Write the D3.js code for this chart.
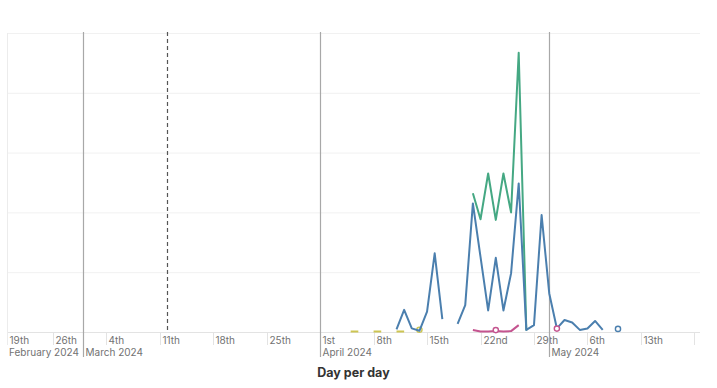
<!DOCTYPE html>
<html>
<head>
<meta charset="utf-8">
<script src="https://cdn.jsdelivr.net/npm/d3@7"></script>
<style>
  body { margin: 0; background: #fff; }
  svg { display: block; font-family: Inter, "Open Sans", sans-serif; }
</style>
</head>
<body>
<svg id="chart" width="717" height="388"></svg>
<script>
// Data
const xStart = "2024-02-20";
const xEnd = "2024-05-21";
const yTicks = [0, 20, 40, 60, 80, 100];
const weekTicks = ["2024-02-19", "2024-02-26", "2024-03-04", "2024-03-11", "2024-03-18", "2024-03-25",
  "2024-04-01", "2024-04-08", "2024-04-15", "2024-04-22", "2024-04-29", "2024-05-06", "2024-05-13", "2024-05-20"];
const weekLabels = ["19th", "26th", "4th", "11th", "18th", "25th", "1st", "8th", "15th", "22nd", "29th", "6th", "13th", ""];
const monthTicks = ["2024-02-20", "2024-03-01", "2024-04-01", "2024-05-01"];
const monthLabels = ["February 2024", "March 2024", "April 2024", "May 2024"];
const markerDate = "2024-03-12";

const greenDates = ["2024-04-21", "2024-04-22", "2024-04-23", "2024-04-24", "2024-04-25", "2024-04-26", "2024-04-27", "2024-04-28"];
const greenValues = [46.4, 37.7, 53, 37.5, 53, 40, 93.4, 0.5];

const blueDates = ["2024-04-11", "2024-04-12", "2024-04-13", "2024-04-14", "2024-04-15", "2024-04-16", "2024-04-17", "2024-04-18",
  "2024-04-19", "2024-04-20", "2024-04-21", "2024-04-22", "2024-04-23", "2024-04-24", "2024-04-25", "2024-04-26",
  "2024-04-27", "2024-04-28", "2024-04-29", "2024-04-30", "2024-05-01", "2024-05-02", "2024-05-03", "2024-05-04",
  "2024-05-05", "2024-05-06", "2024-05-07", "2024-05-08", "2024-05-09", "2024-05-10"];
const blueValues = [0.9, 7.4, 1.2, 0.4, 6.8, 26.3, 4.3, null,
  2.7, 9, 43, 25.1, 7.2, 24.8, 7.2, 19.6,
  49.7, 0.7, 2.3, 39.1, 12.9, 1.2, 4, 3.2,
  0.7, 1.2, 3.7, 0.7, null, 0.7];

const pinkDates = ["2024-04-21", "2024-04-22", "2024-04-23", "2024-04-24", "2024-04-25", "2024-04-26", "2024-04-27", "2024-04-28",
  "2024-04-29", "2024-04-30", "2024-05-01", "2024-05-02"];
const pinkValues = [0.7, 0.2, 0.2, 0.3, 0.2, 0.3, 2.3, null, null, null, null, 0.8];
const pinkDotDates = ["2024-04-24"];
const pinkDotValues = [0.3];

const yellowDates = ["2024-04-05", "2024-04-06", "2024-04-07", "2024-04-08", "2024-04-09", "2024-04-10",
  "2024-04-11", "2024-04-12", "2024-04-13", "2024-04-14"];
const yellowValues = [0.2, 0.2, null, 0.2, 0.2, null, 0.2, 0.2, null, 0.4];

const parse = d3.timeParse("%Y-%m-%d");

const svg = d3.select("#chart");
const plotLeft = 7, plotRight = 702, plotTop = 33, plotBottom = 332;

const x = d3.scaleTime()
  .domain([parse(xStart), parse(xEnd)])
  .range([plotLeft, plotRight]);
const y = d3.scaleLinear()
  .domain([0, 100])
  .range([plotBottom, plotTop]);

// horizontal grid
svg.append("g")
  .selectAll("line")
  .data(yTicks)
  .join("line")
  .attr("x1", plotLeft).attr("x2", 700)
  .attr("y1", d => y(d) + 0.5).attr("y2", d => y(d) + 0.5)
  .attr("stroke", d => d === 0 ? "#e3e3e3" : "#f1f1f1");

// week ticks and labels
const weekG = svg.append("g");
weekTicks.forEach((t, i) => {
  const px = Math.max(plotLeft, Math.round(x(parse(t)))) + 0.5;
  weekG.append("line")
    .attr("x1", px).attr("x2", px)
    .attr("y1", i === 0 ? plotTop : plotBottom).attr("y2", 345)
    .attr("stroke", i === 0 ? "#ececec" : "#e3e3e3");
  weekG.append("text")
    .attr("x", px + 2).attr("y", 344)
    .attr("font-size", 10).attr("fill", "#727272")
    .text(weekLabels[i]);
});

// month lines and labels
const monthG = svg.append("g");
monthTicks.forEach((t, i) => {
  const px = Math.round(x(parse(t))) + 0.5;
  if (i > 0) {
    monthG.append("line")
      .attr("x1", px).attr("x2", px)
      .attr("y1", plotTop - 1).attr("y2", 357)
      .attr("stroke", "#a8a8a8").attr("stroke-width", 1.2);
  }
  monthG.append("text")
    .attr("x", (i === 0 ? plotLeft : px) + 2).attr("y", 356.3)
    .attr("font-size", 10).attr("fill", "#727272")
    .text(monthLabels[i]);
});

// dashed marker line
const mx = Math.round(x(parse(markerDate))) + 0.5;
svg.append("line")
  .attr("x1", mx).attr("x2", mx)
  .attr("y1", plotTop - 1).attr("y2", plotBottom)
  .attr("stroke", "#555").attr("stroke-width", 1.2)
  .attr("stroke-dasharray", "4,3");

// axis title
svg.append("text")
  .attr("x", (plotLeft + 700) / 2).attr("y", 377)
  .attr("text-anchor", "middle")
  .attr("font-size", 12.5).attr("font-weight", 700).attr("fill", "#333")
  .text("Day per day");

const line = d3.line()
  .defined(d => d.v != null)
  .x(d => x(d.t))
  .y(d => y(d.v));

function drawSeries(dates, values, color) {
  const data = dates.map((d, i) => ({ t: parse(d), v: values[i] }));
  svg.append("path")
    .datum(data)
    .attr("fill", "none")
    .attr("stroke", color)
    .attr("stroke-width", 2)
    .attr("stroke-linejoin", "round")
    .attr("d", line);
  // isolated points get a marker
  const lonely = data.filter((d, i) => d.v != null &&
    (i === 0 || data[i - 1].v == null) && (i === data.length - 1 || data[i + 1].v == null));
  drawDots(lonely, color);
}

function drawDots(points, color) {
  svg.append("g")
    .selectAll("circle")
    .data(points)
    .join("circle")
    .attr("cx", d => x(d.t))
    .attr("cy", d => y(d.v) - 1)
    .attr("r", 2.6)
    .attr("fill", "#fff")
    .attr("stroke", color)
    .attr("stroke-width", 1.4);
}

drawSeries(yellowDates, yellowValues, "#cdc552");
drawSeries(greenDates, greenValues, "#45a883");
drawSeries(blueDates, blueValues, "#4b7fae");
drawSeries(pinkDates, pinkValues, "#c4548f");
drawDots(pinkDotDates.map((d, i) => ({ t: parse(d), v: pinkDotValues[i] })), "#c4548f");
</script>
</body>
</html>
